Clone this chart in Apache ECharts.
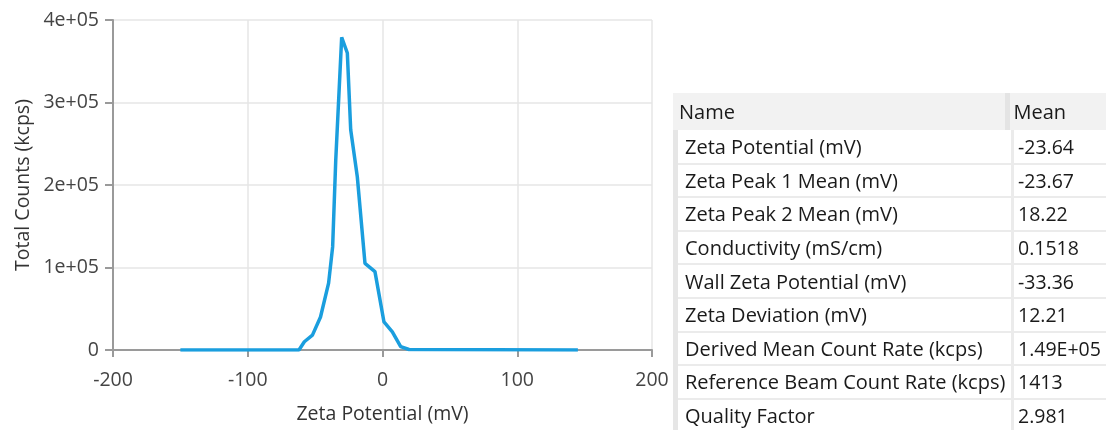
<!DOCTYPE html>
<html>
<head>
<meta charset="utf-8">
<script src="https://cdn.jsdelivr.net/npm/echarts@6/dist/echarts.min.js"></script>
<style>
  html, body { margin: 0; padding: 0; background: #fff; }
  #chart { position: absolute; left: 0; top: 0; width: 1106px; height: 430px; }
  #tbl { position: absolute; left: 673px; top: 93px; width: 433px; font-family: "Open Sans", "Noto Sans", sans-serif; font-size: 20px; color: #1a1a1a; overflow: hidden; }
  table { border-collapse: collapse; width: 433px; table-layout: fixed; }
  th { background: #f2f2f2; font-weight: normal; text-align: left; height: 37px; padding: 0 0 0 6px; box-sizing: border-box; }
  th.c1 { border-right: 5px solid #e4e4e4; }
  th.c2 { padding-left: 4px; }
  td { height: 33.6px; padding: 0 0 0 7px; box-sizing: border-box; border-bottom: 2px solid #ebebeb; white-space: nowrap; }
  td.c1 { border-left: 5px solid #e6e6e6; border-right: 3px solid #ebebeb; }
  td.c2 { padding-left: 4px; font-size: 19.5px; }
</style>
</head>
<body>
<div id="chart"></div>
<div id="tbl"></div>
<script>
// Distribution curve (Zeta Potential mV vs Total Counts kcps)
var zetaX = [-150, -62, -58, -52, -46, -40, -37, -34.7, -30.3, -26.1, -23.6, -18.7, -13, -5.6, 1.1, 7.3, 13.5, 19.7, 145];
var counts = [0, 0, 10000, 18000, 40000, 81000, 125000, 230000, 379000, 360000, 267000, 210000, 105000, 95000, 34000, 22000, 4000, 600, 0];
var xTicks = [-200, -100, 0, 100, 200];
var yTickLabels = ['0', '1e+05', '2e+05', '3e+05', '4e+05'];

// Results table
var tableNames = ['Zeta Potential (mV)', 'Zeta Peak 1 Mean (mV)', 'Zeta Peak 2 Mean (mV)', 'Conductivity (mS/cm)', 'Wall Zeta Potential (mV)', 'Zeta Deviation (mV)', 'Derived Mean Count Rate (kcps)', 'Reference Beam Count Rate (kcps)', 'Quality Factor'];
var tableMeans = ['-23.64', '-23.67', '18.22', '0.1518', '-33.36', '12.21', '1.49E+05', '1413', '2.981'];
var tableHeader = ['Name', 'Mean'];

var html = '<table><colgroup><col style="width:334px"><col></colgroup><tr><th class="c1">' + tableHeader[0] + '</th><th class="c2">' + tableHeader[1] + '</th></tr></table>';
html += '<table><colgroup><col style="width:337px"><col></colgroup>';
for (var i = 0; i < tableNames.length; i++) {
  html += '<tr><td class="c1">' + tableNames[i] + '</td><td class="c2">' + tableMeans[i] + '</td></tr>';
}
html += '</table>';
document.getElementById('tbl').innerHTML = html;

var data = zetaX.map(function (x, i) { return [x, counts[i]]; });
var font = '"Open Sans", "Noto Sans", sans-serif';
var fs = 19.5;
var chart = echarts.init(document.getElementById('chart'));
chart.setOption({
  animation: false,
  grid: { left: 113, right: 454, top: 20, bottom: 80 },
  xAxis: {
    type: 'value', min: xTicks[0], max: xTicks[xTicks.length - 1], interval: 100,
    name: 'Zeta Potential (mV)', nameLocation: 'middle', nameGap: 54,
    nameTextStyle: { fontFamily: font, fontSize: fs, color: '#333' },
    axisLine: { show: true, onZero: false, lineStyle: { color: '#9a9a9a', width: 2 } },
    axisTick: { show: true, length: 7, lineStyle: { color: '#9a9a9a', width: 2 } },
    axisLabel: { fontFamily: font, fontSize: fs, color: '#444', margin: 20 },
    splitLine: { show: true, lineStyle: { color: '#e6e6e6', width: 1.5 } }
  },
  yAxis: {
    type: 'value', min: 0, max: 400000, interval: 100000,
    name: 'Total Counts (kcps)', nameLocation: 'middle', nameGap: 80,
    nameTextStyle: { fontFamily: font, fontSize: fs, color: '#333' },
    axisLine: { show: true, onZero: false, lineStyle: { color: '#9a9a9a', width: 2 } },
    axisTick: { show: true, length: 8, lineStyle: { color: '#9a9a9a', width: 2 } },
    axisLabel: { fontFamily: font, fontSize: fs, color: '#444', margin: 14,
      formatter: function (v) { return yTickLabels[Math.round(v / 100000)]; } },
    splitLine: { show: true, lineStyle: { color: '#e6e6e6', width: 1.5 } }
  },
  series: [{
    type: 'line', data: data, showSymbol: false, smooth: false,
    lineStyle: { color: '#1a9ede', width: 3.5 }, itemStyle: { color: '#1a9ede' }
  }]
});
</script>
</body>
</html>
